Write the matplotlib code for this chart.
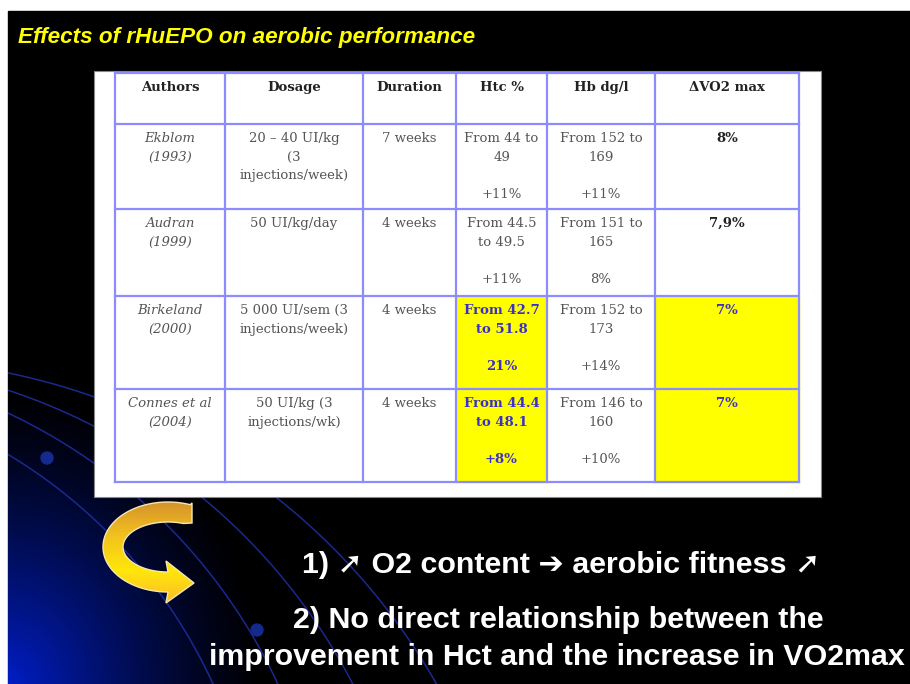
import numpy as np
import matplotlib
matplotlib.use("Agg")
import matplotlib.pyplot as plt
from matplotlib.patches import Rectangle, Polygon, Circle
from matplotlib.colors import LinearSegmentedColormap

# table content
headers = ["Authors", "Dosage", "Duration", "Htc %", "Hb dg/l", "\u0394VO2 max"]
authors = ["Ekblom\n(1993)", "Audran\n(1999)", "Birkeland\n(2000)", "Connes et al\n(2004)"]
dosage = ["20 \u2013 40 UI/kg\n(3\ninjections/week)", "50 UI/kg/day",
          "5 000 UI/sem (3\ninjections/week)", "50 UI/kg (3\ninjections/wk)"]
duration = ["7 weeks", "4 weeks", "4 weeks", "4 weeks"]
htc = ["From 44 to\n49\n\n+11%", "From 44.5\nto 49.5\n\n+11%",
       "From 42.7\nto 51.8\n\n21%", "From 44.4\nto 48.1\n\n+8%"]
hb = ["From 152 to\n169\n\n+11%", "From 151 to\n165\n\n8%",
      "From 152 to\n173\n\n+14%", "From 146 to\n160\n\n+10%"]
vo2 = ["8%", "7,9%", "7%", "7%"]
highlight = [False, False, True, True]   # yellow Htc and VO2 cells

title = "Effects of rHuEPO on aerobic performance"
point1 = "1) \u279a O2 content \u2794 aerobic fitness \u279a"
point2 = ["2) No direct relationship between the",
          "improvement in Hct and the increase in VO2max"]

W, H = 910, 684
fig = plt.figure(figsize=(9.1, 6.84), dpi=100)
fig.patch.set_facecolor("white")
ax = fig.add_axes([0, 0, 1, 1])
ax.set_xlim(0, W)
ax.set_ylim(H, 0)
ax.axis("off")

# slide background: black with blue glow bottom-left
sx0, sy0 = 8, 11
ax.add_patch(Rectangle((sx0, sy0), W - sx0, H - sy0, color="black", zorder=0))
yy, xx = np.mgrid[sy0:H, sx0:W]
d = np.sqrt(((xx - sx0) / 260.0) ** 2 + ((yy - H) / 300.0) ** 2)
a = np.clip(1 - d, 0, 1) ** 1.3
img = np.zeros(xx.shape + (4,))
img[..., 1] = 0.12
img[..., 2] = 0.78
img[..., 3] = a
ax.imshow(img, extent=(sx0, W, H, sy0), zorder=1, interpolation="bilinear")

# decorative arcs and dots
slide_clip = Rectangle((sx0, sy0), W - sx0, H - sy0, transform=ax.transData)
for cx, cy, r in [(-260, 900, 520), (-230, 920, 560), (-180, 960, 600), (-120, 1000, 640)]:
    t = np.linspace(0, np.pi / 2, 400)
    ln, = ax.plot(cx + r * np.cos(t), cy - r * np.sin(t), color="#1a2890", lw=1.1, zorder=2)
    ln.set_clip_path(slide_clip)
ax.add_patch(Circle((47, 458), 6, color="#142a8c", zorder=2))
ax.add_patch(Circle((257, 630), 6, color="#142a8c", zorder=2))

# title
ax.text(18, 38, title, color="#ffff00", fontsize=16.2, fontweight="bold", style="italic",
        family="Liberation Sans", va="center", ha="left", zorder=5)

# white panel with the table
ax.add_patch(Rectangle((94, 71), 727, 426, facecolor="white", edgecolor="#888888", lw=0.8, zorder=3))
col_x = [115, 225, 363, 456, 547, 655, 799]
row_y = [73, 124, 209, 296, 389, 482]
grid_c = "#8c8cff"
yellow = "#ffff00"
serif = "DejaVu Serif"
fs = 9.5

for r in range(4):
    if highlight[r]:
        for c in (3, 5):
            ax.add_patch(Rectangle((col_x[c], row_y[r + 1]), col_x[c + 1] - col_x[c],
                                   row_y[r + 2] - row_y[r + 1], color=yellow, zorder=4))
for x in col_x:
    ax.plot([x, x], [row_y[0], row_y[-1]], color=grid_c, lw=1.6, zorder=5)
for y in row_y:
    ax.plot([col_x[0], col_x[-1]], [y, y], color=grid_c, lw=1.6, zorder=5)

def cell(c, r, s, color, weight="normal", style="normal"):
    xc = (col_x[c] + col_x[c + 1]) / 2
    ax.text(xc, row_y[r] + 8, s, ha="center", va="top", fontsize=fs, family=serif,
            color=color, fontweight=weight, style=style, linespacing=1.57, zorder=6)

for c, h in enumerate(headers):
    cell(c, 0, h, "#222222", weight="bold")

grey = "#555555"
blue = "#3a2fc8"
for r in range(4):
    cell(0, r + 1, authors[r], grey, style="italic")
    cell(1, r + 1, dosage[r], grey)
    cell(2, r + 1, duration[r], grey)
    if highlight[r]:
        cell(3, r + 1, htc[r], blue, weight="bold")
        cell(5, r + 1, vo2[r], blue, weight="bold")
    else:
        cell(3, r + 1, htc[r], grey)
        cell(5, r + 1, vo2[r], "#222222", weight="bold")
    cell(4, r + 1, hb[r], grey)

# curved yellow arrow
cx, cy = 168, 547
t_out = np.radians(np.linspace(70, 270, 80))
t_in = t_out[::-1]
outer = np.column_stack([cx + 65 * np.cos(t_out), cy - 45 * np.sin(t_out)])
inner = np.column_stack([cx + 45 * np.cos(t_in), cy - 25 * np.sin(t_in)])
head = np.array([[166, 603], [194, 583], [166, 561]])
pts = np.vstack([[[192, 503]], outer, head, inner, [[192, 523]]])
arrow = Polygon(pts, closed=True, facecolor="none", edgecolor="#f6e7b0", lw=1.0, zorder=7)
ax.add_patch(arrow)
grad = LinearSegmentedColormap.from_list("arr", ["#d4902c", "#f2c21e", "#ffe70a", "#fbb82a"])
gimg = ax.imshow(np.linspace(0, 1, 100).reshape(-1, 1), cmap=grad, aspect="auto",
                 extent=(100, 196, 606, 500), zorder=6)
gimg.set_clip_path(arrow)

# bottom text
fam = ["Liberation Sans", "DejaVu Sans"]
bfs = 21.9
ax.text(561, 565, point1, color="white", fontsize=bfs, fontweight="bold", family=fam,
        ha="center", va="center", zorder=5)
ax.text(558, 620, point2[0], color="white", fontsize=bfs, fontweight="bold", family=fam,
        ha="center", va="center", zorder=5)
ax.text(557, 657, point2[1], color="white", fontsize=bfs, fontweight="bold", family=fam,
        ha="center", va="center", zorder=5)

ax.set_xlim(0, W)
ax.set_ylim(H, 0)
fig.savefig("out.png", dpi=100, facecolor="white")
